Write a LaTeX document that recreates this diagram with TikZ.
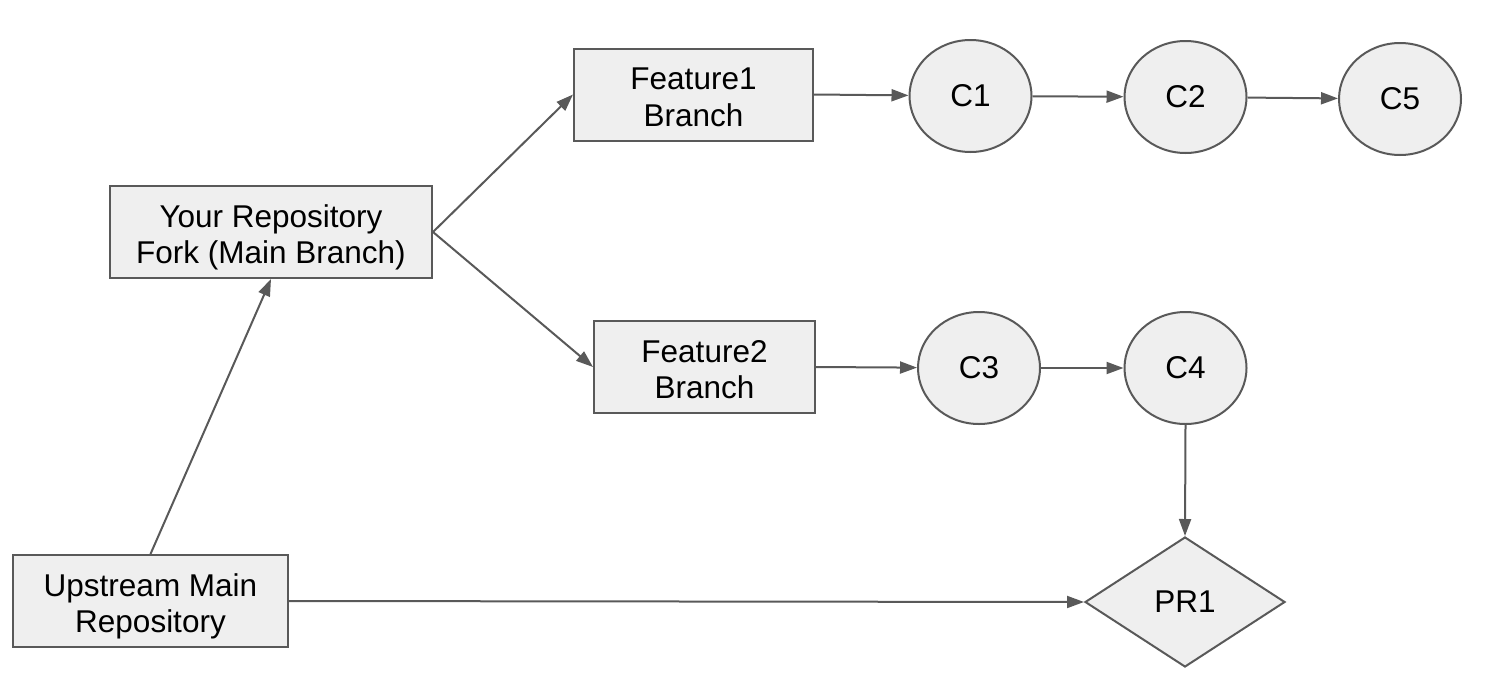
\documentclass[tikz,border=0pt]{standalone}
\usepackage{fontspec}
\setmainfont{Liberation Sans}
\usetikzlibrary{arrows.meta,shapes.geometric}
\definecolor{edge}{HTML}{595959}
\definecolor{shade}{HTML}{EFEFEF}
\tikzset{
  base/.style={draw=edge, fill=shade, line width=2pt, inner sep=0pt,
    font=\fontsize{31.5}{36.5}\selectfont, align=center, text=black},
  % two-line labels: struts at the last baseline even out the text block
  box/.style={base, rectangle,
    execute at begin node={\rule{0pt}{70pt}},
    execute at end node={\rule[-0.21em]{0pt}{0pt}}},
  commit/.style={base, ellipse, minimum width=122pt, minimum height=112pt},
  pr/.style={base, diamond, minimum width=200pt, minimum height=130pt, aspect=1.54},
  link/.style={draw=edge, line width=2pt, -{Triangle[length=17pt,width=12pt]}},
}
\begin{document}
\begin{tikzpicture}[x=1pt,y=-1pt]
  \useasboundingbox (0,0) rectangle (1498,696);

  % branch and repository boxes
  \node[box, minimum width=275pt, minimum height=92pt] (up) at (150.5,601) {Upstream Main\\Repository};
  \node[box, minimum width=322pt, minimum height=92pt] (fork) at (271,232) {Your Repository\\Fork (Main Branch)};
  \node[box, minimum width=239pt, minimum height=92pt] (f1) at (693.5,94.5) {Feature1\\Branch};
  \node[box, minimum width=221pt, minimum height=92pt] (f2) at (704.5,367) {Feature2\\Branch};

  % commits
  \node[commit] (c1) at (970.5,96) {C1};
  \node[commit] (c2) at (1185.5,97) {C2};
  \node[commit] (c5) at (1400,99) {C5};
  \node[commit] (c3) at (979,368) {C3};
  \node[commit] (c4) at (1185.5,368) {C4};

  % pull request
  \node[pr] (pr1) at (1185,602) {PR1};

  % connectors
  \draw[link] (up.north) -- (fork.south);
  \draw[link] (fork.east) -- (f1.west);
  \draw[link] (fork.east) -- (f2.west);
  \draw[link] (f1.east) -- (c1);
  \draw[link] (c1) -- (c2);
  \draw[link] (c2) -- (c5);
  \draw[link] (f2.east) -- (c3);
  \draw[link] (c3) -- (c4);
  \draw[link] (c4.south) -- (pr1.north);
  \draw[link] (up.east) -- (pr1.west);
\end{tikzpicture}
\end{document}
